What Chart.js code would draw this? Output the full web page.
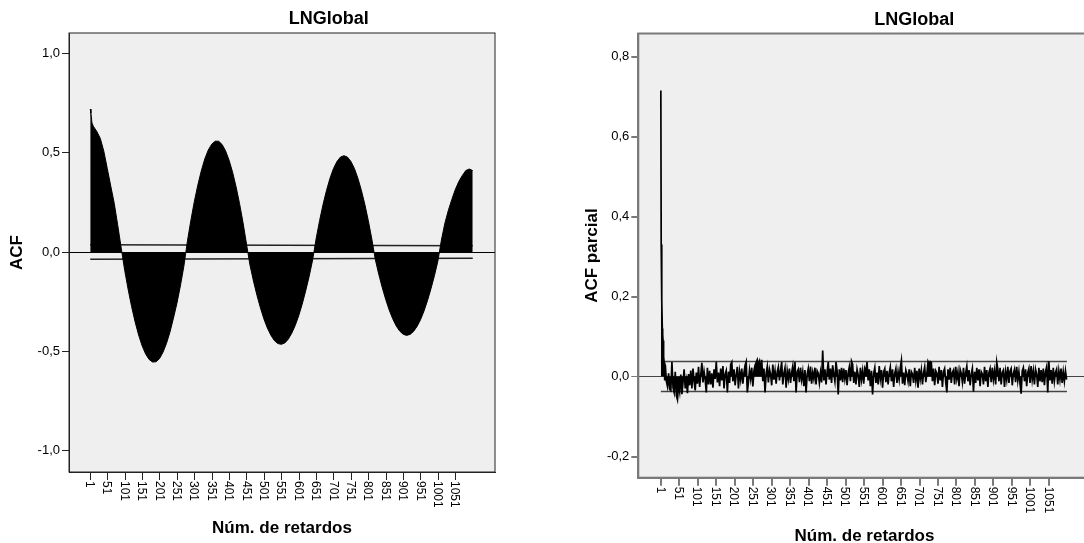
<!DOCTYPE html>
<html>
<head>
<meta charset="utf-8">
<script src="https://cdn.jsdelivr.net/npm/chart.js@4.4.1/dist/chart.umd.min.js"></script>
<style>
  html, body { margin: 0; padding: 0; background: #fff; overflow: hidden; }
  .wrap { position: absolute; top: 0; }
  #leftWrap { left: 0; }
  #rightWrap { left: 540px; }
</style>
</head>
<body>
<div id="leftWrap" class="wrap"><canvas id="acfChart" width="540" height="543"></canvas></div>
<div id="rightWrap" class="wrap"><canvas id="pacfChart" width="560" height="551"></canvas></div>
<script>
// x axis (lags)
const xTickLags = [1, 51, 101, 151, 201, 251, 301, 351, 401, 451, 501, 551, 601, 651, 701, 751, 801, 851, 901, 951, 1001, 1051];
const xTickLabels = xTickLags.map(String);

// ACF
const acfLags = [1, 3, 6, 10, 20, 30, 40, 50, 60, 70, 80, 90, 100, 110, 120, 130, 140, 150, 160, 170, 180, 190, 200,
  210, 220, 230, 240, 250, 260, 270, 280, 290, 300, 310, 320, 330, 340, 350, 360, 370, 380, 390, 400,
  410, 420, 430, 440, 450, 460, 470, 480, 490, 500, 510, 520, 530, 540, 550, 560, 570, 580, 590, 600,
  610, 620, 630, 640, 650, 660, 670, 680, 690, 700, 710, 720, 730, 740, 750, 760, 770, 780, 790, 800,
  810, 820, 830, 840, 850, 860, 870, 880, 890, 900, 910, 920, 930, 940, 950, 960, 970, 980, 990, 1000,
  1010, 1020, 1030, 1040, 1050, 1060, 1070, 1080, 1090, 1100];
const acfValues = [0.72, 0.70, 0.65, 0.633, 0.607, 0.572, 0.508, 0.42, 0.332, 0.245, 0.135, 0.02, -0.092, -0.189, -0.276, -0.352, -0.418, -0.472, -0.513, -0.541, -0.554, -0.553, -0.537,
  -0.505, -0.461, -0.404, -0.334, -0.259, -0.171, -0.072, 0.052, 0.158, 0.253, 0.336, 0.408, 0.468, 0.513, 0.543, 0.558, 0.558, 0.541, 0.509, 0.462,
  0.402, 0.329, 0.244, 0.148, 0.04, -0.066, -0.146, -0.218, -0.281, -0.337, -0.383, -0.419, -0.446, -0.461, -0.465, -0.458, -0.439, -0.409, -0.37, -0.321,
  -0.263, -0.196, -0.123, -0.04, 0.066, 0.158, 0.24, 0.311, 0.372, 0.421, 0.456, 0.478, 0.485, 0.478, 0.456, 0.421, 0.372, 0.311, 0.24, 0.158,
  0.066, -0.037, -0.112, -0.179, -0.239, -0.292, -0.336, -0.372, -0.398, -0.414, -0.42, -0.415, -0.4, -0.375, -0.341, -0.297, -0.245, -0.185, -0.119, -0.045,
  0.06, 0.145, 0.21, 0.265, 0.315, 0.355, 0.385, 0.41, 0.418, 0.41];
const acfBandLags = [1, 1100];
const acfUpper = [0.036, 0.032];
const acfLower = [-0.036, -0.031];
const acfYTicks = [-1, -0.5, 0, 0.5, 1];
const acfYLabels = ['-1,0', '-0,5', '0,0', '0,5', '1,0'];

// PACF: lags 1-12 one by one, then every third lag from 13
const pacfValues = [0.715, 0.33, 0.25, 0.19, 0.12, 0.105, 0.09, 0.07, 0.05, 0.035, 0.02, -0.01,
  .03,-.012,-.025,.008,-.032,-.035,.036,-.028,-.04,.012,-.048,-.058,-.02,-.038,.005,-.044,-.015,.018,-.03,-.01,
  -.042,.006,-.022,.015,-.03,.02,-.012,-.035,.01,-.018,.024,-.026,.004,.034,-.015,.012,-.008,-.04,.022,-.02,
  .014,-.02,.008,-.028,.018,-.006,.037,-.015,.01,-.024,.02,-.01,.026,-.03,.006,.015,-.04,.012,-.016,.03,
  .036,-.012,.018,-.022,.005,.024,-.03,.012,-.008,.02,-.018,.01,.028,.037,-.04,-.014,.016,-.006,.022,-.025,
  .015,.028,.035,.042,.03,.038,.01,.042,-.012,.02,-.04,.008,.025,-.015,.018,.006,-.022,.03,-.008,.014,
  -.018,.012,.024,-.01,.016,.036,-.02,.008,.022,-.028,.014,-.006,.02,-.016,.01,.026,-.012,.036,-.04,.012,
  .018,-.014,.022,-.008,.012,-.024,.016,-.04,.006,.02,-.012,.025,-.018,.01,-.006,.022,-.02,.014,.008,-.016,
  .01,-.015,.065,-.01,.018,-.02,.012,.036,-.008,.02,-.016,.028,.006,-.012,.036,.014,-.045,.018,-.01,.022,
  -.014,.02,-.006,.016,-.022,.01,.024,-.012,.038,.03,-.016,.012,-.02,.018,.004,-.026,.022,-.008,.014,-.018,
  .02,.012,.036,-.01,.018,-.024,.014,-.045,.008,.022,-.016,.01,-.02,.026,-.006,.016,-.028,.012,.02,-.014,
  .014,-.02,.01,.024,-.012,.018,-.026,.008,.02,-.016,.012,-.008,.022,.04,-.018,.01,-.022,.016,.006,-.012,
  .018,-.024,.012,.006,-.016,.022,-.01,.014,-.028,.02,-.006,.016,-.02,.01,.024,-.014,.008,.037,.03,.037,
  .035,-.012,.02,-.022,.014,.008,-.018,.024,-.01,.016,-.026,.012,.02,-.014,-.04,.018,-.008,.022,-.016,.01,
  .016,-.02,.024,-.006,.012,-.024,.018,.008,-.014,.022,-.018,.01,.026,-.012,.016,-.022,.006,.02,-.038,.012,
  -.016,.022,-.01,.018,-.024,.012,.006,-.02,.024,-.012,.016,-.026,.01,.02,-.014,.022,-.008,.014,-.02,.036,
  .018,-.012,.022,-.02,.01,.016,-.026,.012,-.008,.024,-.016,.014,.02,-.022,.008,.018,-.014,.024,-.01,.012,
  -.018,-.043,.014,.022,-.012,.018,-.024,.01,.02,-.016,.026,-.008,.014,-.02,.018,.006,-.026,.022,-.012,.016,
  -.014,.02,-.022,.012,.024,-.04,.038,-.01,.016,-.018,.022,-.012,.01,.018,-.02,.014,-.008,.02,-.016,.012,
  -.012,.014,-.008];
const pacfLags = pacfValues.map((v, i) => i < 12 ? i + 1 : 13 + (i - 12) * 3);
const pacfBandLags = [1, 1100];
const pacfUpper = [0.0375, 0.0375];
const pacfLower = [-0.0375, -0.0375];
const pacfYTicks = [-0.2, 0, 0.2, 0.4, 0.6, 0.8];
const pacfYLabels = ['-0,2', '0,0', '0,2', '0,4', '0,6', '0,8'];

const FONT = '"Liberation Sans", Arial, sans-serif';
const toPoints = (xs, ys) => xs.map((x, i) => ({ x: x, y: ys[i] }));

// gray plot background, frame, chart title and vertical x tick labels
const plotFrame = {
    id: 'plotFrame',
    beforeDraw(chart, args, o) {
        const { ctx, chartArea: a } = chart;
        ctx.save();
        ctx.fillStyle = '#efefef';
        ctx.fillRect(a.left, a.top, a.right - a.left, a.bottom - a.top);
        ctx.restore();
    },
    afterDraw(chart, args, o) {
        const { ctx, chartArea: a } = chart;
        ctx.save();
        ctx.strokeStyle = o.frameColor;
        ctx.lineWidth = o.frameWidth;
        ctx.strokeRect(a.left, a.top, a.right - a.left, a.bottom - a.top);

        ctx.fillStyle = '#000';
        ctx.font = 'bold 18px ' + FONT;
        ctx.textAlign = 'center';
        ctx.textBaseline = 'middle';
        ctx.fillText(o.title, a.left + (a.right - a.left) * 0.61, o.titleY);

        const xs = chart.scales.x;
        ctx.font = o.tickFont;
        ctx.textAlign = 'left';
        xs.ticks.forEach((t, i) => {
            ctx.save();
            ctx.translate(xs.getPixelForValue(t.value), a.bottom + o.labelGap);
            ctx.rotate(Math.PI / 2);
            ctx.fillText(xTickLabels[i], 0, 1);
            ctx.restore();
        });
        ctx.restore();
    }
};

function makeChart(id, cfg) {
    return new Chart(document.getElementById(id), {
        type: 'line',
        data: {
            datasets: [
                { data: cfg.series, borderColor: '#000', backgroundColor: '#000', borderWidth: cfg.seriesWidth, fill: 'origin', pointRadius: 0, tension: 0 },
                { data: cfg.upper, borderColor: cfg.bandColor, borderWidth: 1.5, fill: false, pointRadius: 0 },
                { data: cfg.lower, borderColor: cfg.bandColor, borderWidth: 1.5, fill: false, pointRadius: 0 }
            ]
        },
        options: {
            responsive: false,
            animation: false,
            events: [],
            layout: { padding: { top: cfg.top, right: cfg.right, left: 0, bottom: 0 } },
            plugins: {
                legend: { display: false },
                tooltip: { enabled: false },
                plotFrame: { title: 'LNGlobal', titleY: cfg.titleY, frameColor: cfg.axisColor, frameWidth: cfg.axisWidth, tickFont: '12px ' + FONT, labelGap: 9 }
            },
            scales: {
                x: {
                    type: 'linear', min: -60, max: 1164,
                    afterBuildTicks: s => { s.ticks = xTickLags.map(v => ({ value: v })); },
                    afterFit: s => { s.height = cfg.xHeight; },
                    grid: { drawOnChartArea: false, color: cfg.axisColor, lineWidth: cfg.axisWidth, tickLength: 8 },
                    border: { color: cfg.axisColor, width: cfg.axisWidth },
                    ticks: { display: false },
                    title: { display: true, text: 'Núm. de retardos', color: '#000', font: { family: FONT, size: 17, weight: 'bold' }, padding: { top: 0, bottom: 4 } }
                },
                y: {
                    type: 'linear', min: cfg.yMin, max: cfg.yMax,
                    afterBuildTicks: s => { s.ticks = cfg.yTicks.map(v => ({ value: v })); },
                    afterFit: s => { s.width = cfg.yWidth; },
                    grid: {
                        color: c => (c.tick && c.tick.value === 0) ? cfg.zeroColor : 'rgba(0,0,0,0)',
                        tickColor: cfg.axisColor, lineWidth: c => (c.tick && c.tick.value === 0) ? 1 : cfg.axisWidth, tickLength: 7
                    },
                    border: { color: cfg.axisColor, width: cfg.axisWidth },
                    ticks: { color: '#000', font: { family: FONT, size: 13 }, padding: 2, callback: (v, i) => cfg.yLabels[i] },
                    title: { display: true, text: cfg.yTitle, color: '#000', font: { family: FONT, size: 17, weight: 'bold' }, padding: { top: cfg.yTitlePad, bottom: 0 } }
                }
            }
        },
        plugins: [plotFrame]
    });
}

makeChart('acfChart', {
    series: toPoints(acfLags, acfValues), seriesWidth: 1,
    upper: toPoints(acfBandLags, acfUpper),
    lower: toPoints(acfBandLags, acfLower),
    bandColor: '#222', axisColor: '#222', axisWidth: 1, zeroColor: '#000',
    top: 33, right: 45, xHeight: 71, yWidth: 69, titleY: 19,
    yMin: -1.108, yMax: 1.103, yTicks: acfYTicks, yLabels: acfYLabels,
    yTitle: 'ACF', yTitlePad: 7
});

makeChart('pacfChart', {
    series: toPoints(pacfLags, pacfValues), seriesWidth: 1.7,
    upper: toPoints(pacfBandLags, pacfUpper),
    lower: toPoints(pacfBandLags, pacfLower),
    bandColor: '#444', axisColor: '#7a7a7a', axisWidth: 2, zeroColor: '#444',
    top: 33.5, right: 9.4, xHeight: 73.3, yWidth: 98.3, titleY: 20.5,
    yMin: -0.253, yMax: 0.8575, yTicks: pacfYTicks, yLabels: pacfYLabels,
    yTitle: 'ACF parcial', yTitlePad: 42
});
</script>
</body>
</html>
